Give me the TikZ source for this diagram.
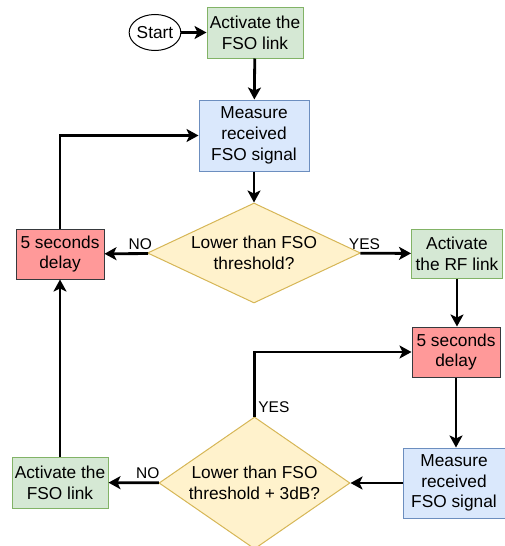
\documentclass[tikz,border=0pt]{standalone}
\usepackage{fontspec}
\setmainfont{Liberation Sans}
\usetikzlibrary{shapes.geometric,arrows.meta}
\definecolor{gfill}{HTML}{D5E8D4}\definecolor{gdraw}{HTML}{82B366}
\definecolor{bfill}{HTML}{DAE8FC}\definecolor{bdraw}{HTML}{6C8EBF}
\definecolor{rfill}{HTML}{FF9999}\definecolor{rdraw}{HTML}{36393D}
\definecolor{yfill}{HTML}{FFF2CC}\definecolor{ydraw}{HTML}{D6B656}
\begin{document}
\begin{tikzpicture}[x=1pt,y=-1pt,
  base/.style={font=\fontsize{17.3}{20.7}\selectfont, align=center, inner sep=0pt, line width=1pt, text=black},
  gbox/.style={base, rectangle, draw=gdraw, fill=gfill},
  bbox/.style={base, rectangle, draw=bdraw, fill=bfill},
  rbox/.style={base, rectangle, draw=rdraw, fill=rfill},
  dec/.style={base, diamond, draw=ydraw, fill=yfill},
  arr/.style={line width=2.8pt, -{Stealth[length=12pt,width=13pt,inset=3pt]}},
  lbl/.style={font=\fontsize{15.5}{18}\selectfont, inner sep=2.5pt}
]
\useasboundingbox (0,0) rectangle (505,546);
\node[base, ellipse, draw=black, minimum width=44pt, minimum height=36pt] (start) at (155,32.5) {Start};
\node[gbox, minimum width=96pt, minimum height=51pt] (g1) at (255,32.5) {Activate the\\FSO link};
\node[bbox, minimum width=110pt, minimum height=71pt] (b1) at (254,135.5) {Measure\\received\\FSO signal};
\node[dec, shape aspect=2.13, minimum width=213pt, minimum height=100pt] (d1) at (254,253) {Lower than FSO\\threshold?};
\node[rbox, minimum width=88pt, minimum height=50pt] (r1) at (60,254) {5 seconds\\delay};
\node[gbox, minimum width=91pt, minimum height=49pt] (g2) at (457,253.5) {Activate\\the RF link};
\node[rbox, minimum width=88pt, minimum height=50pt] (r2) at (456,352) {5 seconds\\delay};
\node[bbox, minimum width=102pt, minimum height=70pt] (b2) at (454,483) {Measure\\received\\FSO signal};
\node[dec, shape aspect=1.447, minimum width=191pt, minimum height=132pt] (d2) at (254.5,483) {Lower than FSO\\threshold + 3dB?};
\node[gbox, minimum width=96pt, minimum height=51pt] (g3) at (60,482.5) {Activate the\\FSO link};

\draw[arr] (start) -- (g1);
\draw[arr] (g1) -- (b1);
\draw[arr] (b1) -- (d1);
\draw[arr] (d1) -- node[lbl, above, pos=0.18] {NO} (r1);
\draw[arr] (d1) -- node[lbl, above, pos=0.08] {YES} (g2);
\draw[arr] (r1.north) |- (b1.west);
\draw[arr] (g2.south) -- (g2.south |- r2.north);
\draw[arr] (r2.south) -- (r2.south |- b2.north);
\draw[arr] (b2) -- (d2);
\draw[arr] (d2) -- node[lbl, above, pos=0.22] {NO} (g3);
\draw[arr] (g3) -- (r1);
\draw[arr] (d2.north) |- node[lbl, right, pos=0.07] {YES} (r2.west);
\end{tikzpicture}
\end{document}
